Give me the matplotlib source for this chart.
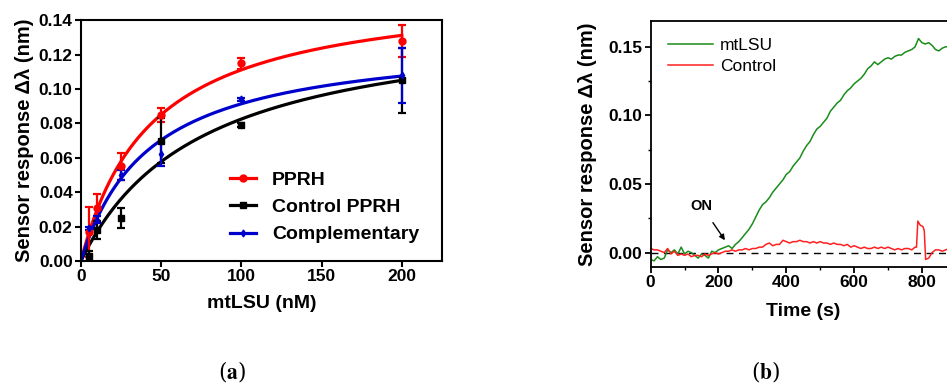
import numpy as np
import matplotlib
matplotlib.use("Agg")
import matplotlib.pyplot as plt
from matplotlib.ticker import MultipleLocator, FormatStrFormatter

plt.rcParams['font.family'] = ['Liberation Sans', 'DejaVu Sans']
plt.rcParams['mathtext.fontset'] = 'stix'

# ---------------- Panel (a) data ----------------
conc = [5, 10, 25, 50, 100, 200]
pprh_y = [0.017, 0.031, 0.055, 0.085, 0.115, 0.128]
pprh_err = [0.0145, 0.008, 0.008, 0.004, 0.0032, 0.0093]
ctrl_y = [0.003, 0.018, 0.025, 0.070, 0.079, 0.105]
ctrl_err = [0.003, 0.005, 0.006, 0.013, 0.001, 0.019]
comp_y = [0.019, 0.024, 0.050, 0.062, 0.094, 0.108]
comp_err = [0.001, 0.002, 0.003, 0.0065, 0.001, 0.016]
# one-site binding fit parameters (Bmax, Kd)
pprh_fit = (0.160, 44.0)
ctrl_fit = (0.1444, 75.0)
comp_fit = (0.1305, 42.8)

# ---------------- Panel (b) data ----------------
green_t = list(range(0, 890, 10))
green_v = [-0.005, -0.006, -0.003, -0.005, -0.004, 0.002, 0.000, 0.002, -0.001, 0.004,
           -0.001, 0.001, 0.000, -0.002, -0.004, -0.001, -0.002, -0.004, 0.001, 0.000,
           0.002, 0.003, 0.004, 0.005, 0.003, 0.006, 0.008, 0.011, 0.014, 0.017,
           0.021, 0.026, 0.031, 0.035, 0.037, 0.040, 0.044, 0.047, 0.050, 0.053,
           0.057, 0.059, 0.063, 0.066, 0.069, 0.074, 0.078, 0.081, 0.086, 0.090,
           0.092, 0.095, 0.098, 0.103, 0.106, 0.109, 0.111, 0.115, 0.118, 0.120,
           0.123, 0.125, 0.127, 0.130, 0.134, 0.136, 0.139, 0.137, 0.139, 0.141,
           0.142, 0.141, 0.143, 0.144, 0.144, 0.146, 0.147, 0.148, 0.150, 0.156,
           0.153, 0.152, 0.153, 0.151, 0.148, 0.147, 0.149, 0.150, 0.150]
red_t = [0, 10, 20, 30, 40, 50, 60, 70, 80, 90, 100, 110, 120, 130, 140, 150, 160, 170,
         180, 190, 200, 210, 220, 230, 240, 250, 260, 270, 280, 290, 300, 310, 320, 330,
         340, 350, 360, 370, 380, 390, 400, 410, 420, 430, 440, 450, 460, 470, 480, 490,
         500, 510, 520, 530, 540, 550, 560, 570, 580, 590, 600, 610, 620, 630, 640, 650,
         660, 670, 680, 690, 700, 710, 720, 730, 740, 750, 760, 770, 780, 784, 788, 795,
         803, 807, 811, 820, 830, 840, 850, 860, 870, 880]
red_v = [0.003, 0.002, 0.002, 0.001, 0.000, 0.003, -0.001, 0.001, -0.002, -0.001,
         -0.002, -0.001, -0.003, -0.002, -0.002, -0.003, -0.001, -0.002, -0.001, 0.000,
         -0.001, 0.000, 0.001, 0.001, 0.002, 0.001, 0.002, 0.002, 0.003, 0.002,
         0.003, 0.003, 0.004, 0.004, 0.006, 0.007, 0.005, 0.006, 0.006, 0.009,
         0.008, 0.007, 0.008, 0.008, 0.009, 0.008, 0.008, 0.007, 0.008, 0.007,
         0.008, 0.007, 0.007, 0.006, 0.007, 0.006, 0.006, 0.005, 0.006, 0.004,
         0.005, 0.004, 0.003, 0.004, 0.003, 0.003, 0.004, 0.003, 0.004, 0.003,
         0.004, 0.003, 0.002, 0.003, 0.002, 0.003, 0.003, 0.002, 0.004, 0.004,
         0.023, 0.020, 0.019, 0.016, -0.005, -0.004, 0.000, 0.002, 0.002, 0.001,
         0.002, 0.003]

fig = plt.figure(figsize=(9.47, 3.87), dpi=100)

# ---------------- Panel (a) ----------------
ax = fig.add_axes([0.0855, 0.3256, 0.3812, 0.6224])
xs = np.linspace(0, 200, 300)
series = [
    ("PPRH", pprh_y, pprh_err, pprh_fit, "#ff0000", "o", 5),
    ("Control PPRH", ctrl_y, ctrl_err, ctrl_fit, "#000000", "s", 4.5),
    ("Complementary", comp_y, comp_err, comp_fit, "#0000cc", "d", 3.5),
]
handles = []
for name, y, e, (bmax, kd), c, m, ms in series:
    ax.errorbar(conc, y, yerr=e, fmt=m, color=c, ms=ms, capsize=3, elinewidth=1.6,
                capthick=1.6, zorder=3)
    ax.plot(xs, bmax * xs / (kd + xs), color=c, lw=2.3, zorder=2)
    h, = ax.plot([], [], color=c, lw=2.3, marker=m, ms=ms)
    handles.append(h)
ax.set_xlim(0, 225)
ax.set_ylim(0, 0.14)
ax.set_xticks([0, 50, 100, 150, 200])
ax.set_yticks(np.arange(0, 0.1401, 0.02))
ax.yaxis.set_major_formatter(FormatStrFormatter('%.2f'))
ax.tick_params(direction='out', length=4, width=1.5, labelsize=12.5, pad=2)
for lab in ax.get_xticklabels() + ax.get_yticklabels():
    lab.set_fontweight('bold')
for s in ax.spines.values():
    s.set_linewidth(1.5)
ax.set_xlabel("mtLSU (nM)", fontsize=14, fontweight='bold', labelpad=8)
ax.set_ylabel("Sensor response Δλ (nm)", fontsize=14.5, fontweight='bold', labelpad=3)
leg = ax.legend(handles, [s[0] for s in series], loc='lower right', frameon=False,
                prop={'weight': 'bold', 'size': 14}, handlelength=1.35,
                handletextpad=0.8, bbox_to_anchor=(0.985, 0.0), labelspacing=0.5)

# ---------------- Panel (b) ----------------
bx = fig.add_axes([0.6871, 0.310, 0.3222, 0.6365])
bx.plot(green_t, green_v, color='#1a8c1a', lw=1.1, label='mtLSU')
bx.plot(red_t, red_v, color='#ff2020', lw=1.1, label='Control')
bx.axhline(0, color='black', lw=1.0, ls=(0, (5, 4)), zorder=0)
bx.set_xlim(0, 900)
bx.set_ylim(-0.0105, 0.169)
bx.set_xticks([0, 200, 400, 600, 800])
bx.set_yticks([0.0, 0.05, 0.10, 0.15])
bx.xaxis.set_minor_locator(MultipleLocator(100))
bx.yaxis.set_minor_locator(MultipleLocator(0.025))
bx.yaxis.set_major_formatter(FormatStrFormatter('%.2f'))
bx.tick_params(which='major', direction='out', length=4, width=1.3, labelsize=12.5, pad=2)
bx.tick_params(which='minor', direction='out', length=2.5, width=1.0)
for lab in bx.get_xticklabels() + bx.get_yticklabels():
    lab.set_fontweight('bold')
for s in bx.spines.values():
    s.set_linewidth(1.3)
bx.set_xlabel("Time (s)", fontsize=14, fontweight='bold', labelpad=9)
bx.set_ylabel("Sensor response Δλ (nm)", fontsize=14.5, fontweight='bold', labelpad=8)
bx.legend(loc='upper left', frameon=False, fontsize=12.5, handlelength=2.6,
          handletextpad=0.4, bbox_to_anchor=(0.0, 1.0), labelspacing=0.3,
          borderaxespad=0.6)
bx.annotate("ON", xy=(219, 0.009), xytext=(150, 0.034), fontsize=10.5, fontweight='bold',
            ha='center', va='center',
            arrowprops=dict(arrowstyle='-|>', color='black', lw=1.0, mutation_scale=8,
                            shrinkA=6, shrinkB=0))

# ---------------- Panel labels ----------------
fig.text(232 / 947, 1 - 372 / 387, r"($\mathbf{a}$)", fontsize=15.5, ha='center', va='center',
         family='serif')
fig.text(766 / 947, 1 - 372 / 387, r"($\mathbf{b}$)", fontsize=15.5, ha='center', va='center',
         family='serif')

fig.savefig("out.png", dpi=100)
